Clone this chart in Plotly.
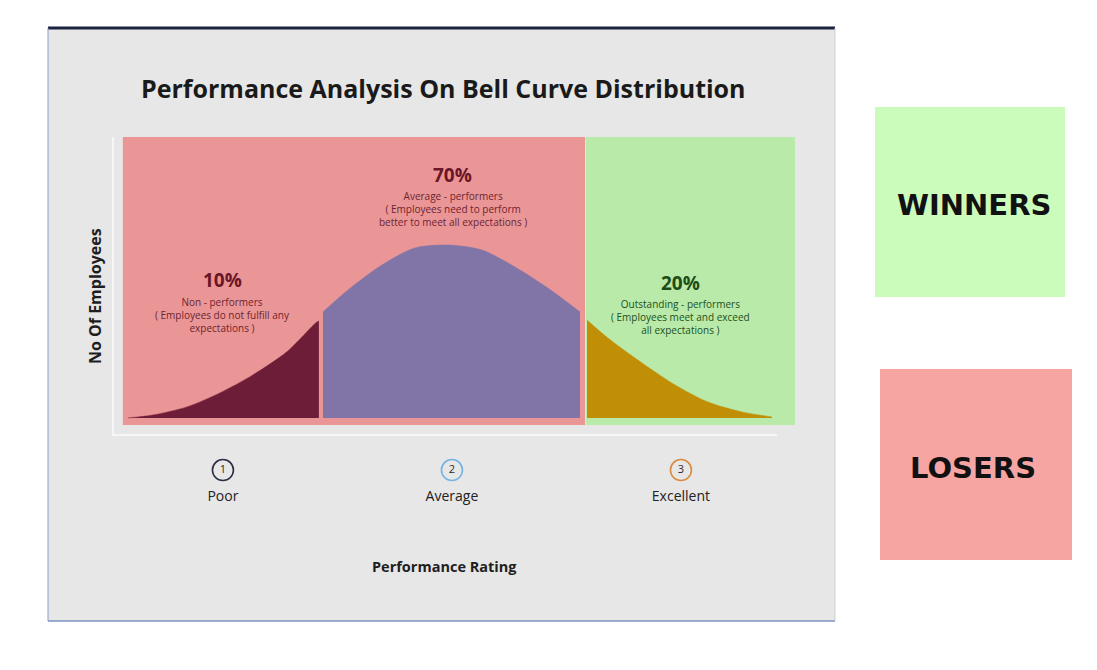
import plotly.graph_objects as go

W, H = 1097, 670
OFF = 8  # page body margin in the browser

# ---------------- data ----------------
ratings = [1, 2, 3]
rating_labels = ["Poor", "Average", "Excellent"]
rating_numbers = ["1", "2", "3"]
rating_circle_colors = ["#2a2e44", "#74b3e2", "#d98b3e"]

# bell-curve segments: x = performance rating scale, y = relative no. of employees
poor_x = [0.585, 0.694, 0.843, 0.987, 1.131, 1.279, 1.410, 1.419]
poor_y = [0.0, 1.7, 6.4, 14.5, 24.9, 38.2, 55.5, 56.0]

avg_x = [1.437, 1.546, 1.694, 1.838, 1.983, 2.131, 2.275, 2.419, 2.559]
avg_y = [61.3, 74.0, 88.4, 98.3, 100.0, 97.1, 87.3, 75.1, 61.3]

exc_x = [2.590, 2.681, 2.830, 2.974, 3.118, 3.266, 3.397]
exc_y = [56.6, 46.2, 31.8, 19.1, 9.2, 3.5, 0.6]

# background zones (losers / winners)
zone_losers = [0.563, 2.581]
zone_winners = [2.585, 3.498]
zone_y = [-4.0, 162.4]

pct_labels = ["10%", "70%", "20%"]
desc_labels = [
    "Non - performers<br>( Employees do not fulfill any<br>expectations )",
    "Average - performers<br>( Employees need to perform<br>better to meet all expectations )",
    "Outstanding - performers<br>( Employees meet and exceed<br>all expectations )",
]

# ---------------- helpers ----------------
def px(x):
    return (x - OFF) / W

def py(y):
    return 1 - (y - OFF) / H

FONT = "Open Sans"

fig = go.Figure()

seg_colors = ["#6e1d38", "#8174a6", "#c08f05"]
for xs, ys, c in zip([poor_x, avg_x, exc_x], [poor_y, avg_y, exc_y], seg_colors):
    fig.add_trace(go.Scatter(
        x=xs, y=ys, mode="lines", fill="tozeroy", fillcolor=c,
        line=dict(color=c, width=0.5, shape="spline", smoothing=0.8),
        hoverinfo="skip", showlegend=False,
    ))

# circled rating numbers
fig.add_trace(go.Scatter(
    x=ratings, y=[-30.1] * 3, mode="markers+text", text=rating_numbers,
    textposition="middle center",
    textfont=dict(family=FONT, size=11, color="#2a2a2a"),
    marker=dict(symbol="circle-open", size=21, color=rating_circle_colors,
                line=dict(width=1.6, color=rating_circle_colors)),
    cliponaxis=False, hoverinfo="skip", showlegend=False,
))
# rating labels
fig.add_trace(go.Scatter(
    x=ratings, y=[-45.7] * 3, mode="text", text=rating_labels,
    textposition="middle center",
    textfont=dict(family=FONT, size=14, color="#222222"),
    cliponaxis=False, hoverinfo="skip", showlegend=False,
))

shapes = [
    # gray panel
    dict(type="rect", xref="paper", yref="paper", x0=px(48), x1=px(835), y0=py(621), y1=py(27),
         fillcolor="#e7e7e7", line=dict(width=0), layer="below"),
    dict(type="line", xref="paper", yref="paper", x0=px(48), x1=px(835), y0=py(28), y1=py(28),
         line=dict(color="#1c2340", width=3), layer="below"),
    dict(type="line", xref="paper", yref="paper", x0=px(48), x1=px(48), y0=py(621), y1=py(28),
         line=dict(color="#8ea0c4", width=1), layer="below"),
    dict(type="line", xref="paper", yref="paper", x0=px(48), x1=px(835), y0=py(621), y1=py(621),
         line=dict(color="#7d92bf", width=1.5), layer="below"),
    dict(type="line", xref="paper", yref="paper", x0=px(835), x1=px(835), y0=py(621), y1=py(28),
         line=dict(color="#cfcfcf", width=1), layer="below"),
    # axis lines
    dict(type="line", xref="paper", yref="paper", x0=px(113), x1=px(113), y0=py(436), y1=py(137),
         line=dict(color="#f6f6f6", width=2), layer="below"),
    dict(type="line", xref="paper", yref="paper", x0=px(113), x1=px(777), y0=py(435), y1=py(435),
         line=dict(color="#f6f6f6", width=2), layer="below"),
    # zones
    dict(type="rect", xref="x", yref="y", x0=zone_losers[0], x1=zone_losers[1], y0=zone_y[0], y1=zone_y[1],
         fillcolor="#eb9696", line=dict(width=0), layer="below"),
    dict(type="rect", xref="x", yref="y", x0=zone_winners[0], x1=zone_winners[1], y0=zone_y[0], y1=zone_y[1],
         fillcolor="#b9eaa9", line=dict(width=0), layer="below"),
    # side legend boxes
    dict(type="rect", xref="paper", yref="paper", x0=px(875), x1=px(1065), y0=py(297), y1=py(107),
         fillcolor="#ccfcbc", line=dict(width=0), layer="below"),
    dict(type="rect", xref="paper", yref="paper", x0=px(880), x1=px(1072), y0=py(560), y1=py(369),
         fillcolor="#f7a5a2", line=dict(width=0), layer="below"),
]

pct_colors = ["#6a1628", "#6a1628", "#1f4d16"]
desc_colors = ["#6b2430", "#6b2430", "#24501c"]
pct_pos = [(1.0, 79.8), (2.004, 140.5), (2.996, 78.0)]
desc_pos = [(1.0, 59.5), (2.004, 120.8), (2.996, 58.4)]

annotations = [
    dict(text="<b>Performance Analysis On Bell Curve Distribution</b>", xref="paper", yref="paper",
         x=px(443), y=py(88), showarrow=False, xanchor="center", yanchor="middle",
         font=dict(family=FONT, size=25, color="#1a1a1a")),
    dict(text="<b>Performance Rating</b>", xref="paper", yref="paper",
         x=px(444), y=py(566), showarrow=False, xanchor="center", yanchor="middle",
         font=dict(family=FONT, size=14.5, color="#1e1e1e")),
    dict(text="<b>No Of Employees</b>", xref="paper", yref="paper", textangle=-90,
         x=px(95), y=py(296), showarrow=False, xanchor="center", yanchor="middle",
         font=dict(family=FONT, size=16, color="#1e1e1e")),
    dict(text="<b>WINNERS</b>", xref="paper", yref="paper",
         x=px(974), y=py(205), showarrow=False, xanchor="center", yanchor="middle",
         font=dict(family="DejaVu Sans", size=29, color="#111111")),
    dict(text="<b>LOSERS</b>", xref="paper", yref="paper",
         x=px(973), y=py(468), showarrow=False, xanchor="center", yanchor="middle",
         font=dict(family="DejaVu Sans", size=29, color="#111111")),
]
for lbl, (x, y), c in zip(pct_labels, pct_pos, pct_colors):
    annotations.append(dict(text=f"<b>{lbl}</b>", x=x, y=y, xref="x", yref="y", showarrow=False,
                            xanchor="center", yanchor="middle",
                            font=dict(family=FONT, size=19, color=c)))
for lbl, (x, y), c in zip(desc_labels, desc_pos, desc_colors):
    annotations.append(dict(text=lbl, x=x, y=y, xref="x", yref="y", showarrow=False,
                            xanchor="center", yanchor="middle", align="center",
                            font=dict(family=FONT, size=10, color=c)))

fig.update_layout(
    width=W, height=H, autosize=False,
    margin=dict(l=0, r=0, t=0, b=0),
    paper_bgcolor="#ffffff", plot_bgcolor="rgba(0,0,0,0)",
    shapes=shapes, annotations=annotations,
    xaxis=dict(domain=[px(113), px(795)], range=[0.52, 3.498], visible=False, fixedrange=True),
    yaxis=dict(domain=[py(510), py(137)], range=[-53.2, 162.4], visible=False, fixedrange=True),
    showlegend=False,
)

fig.write_html("out.html")
